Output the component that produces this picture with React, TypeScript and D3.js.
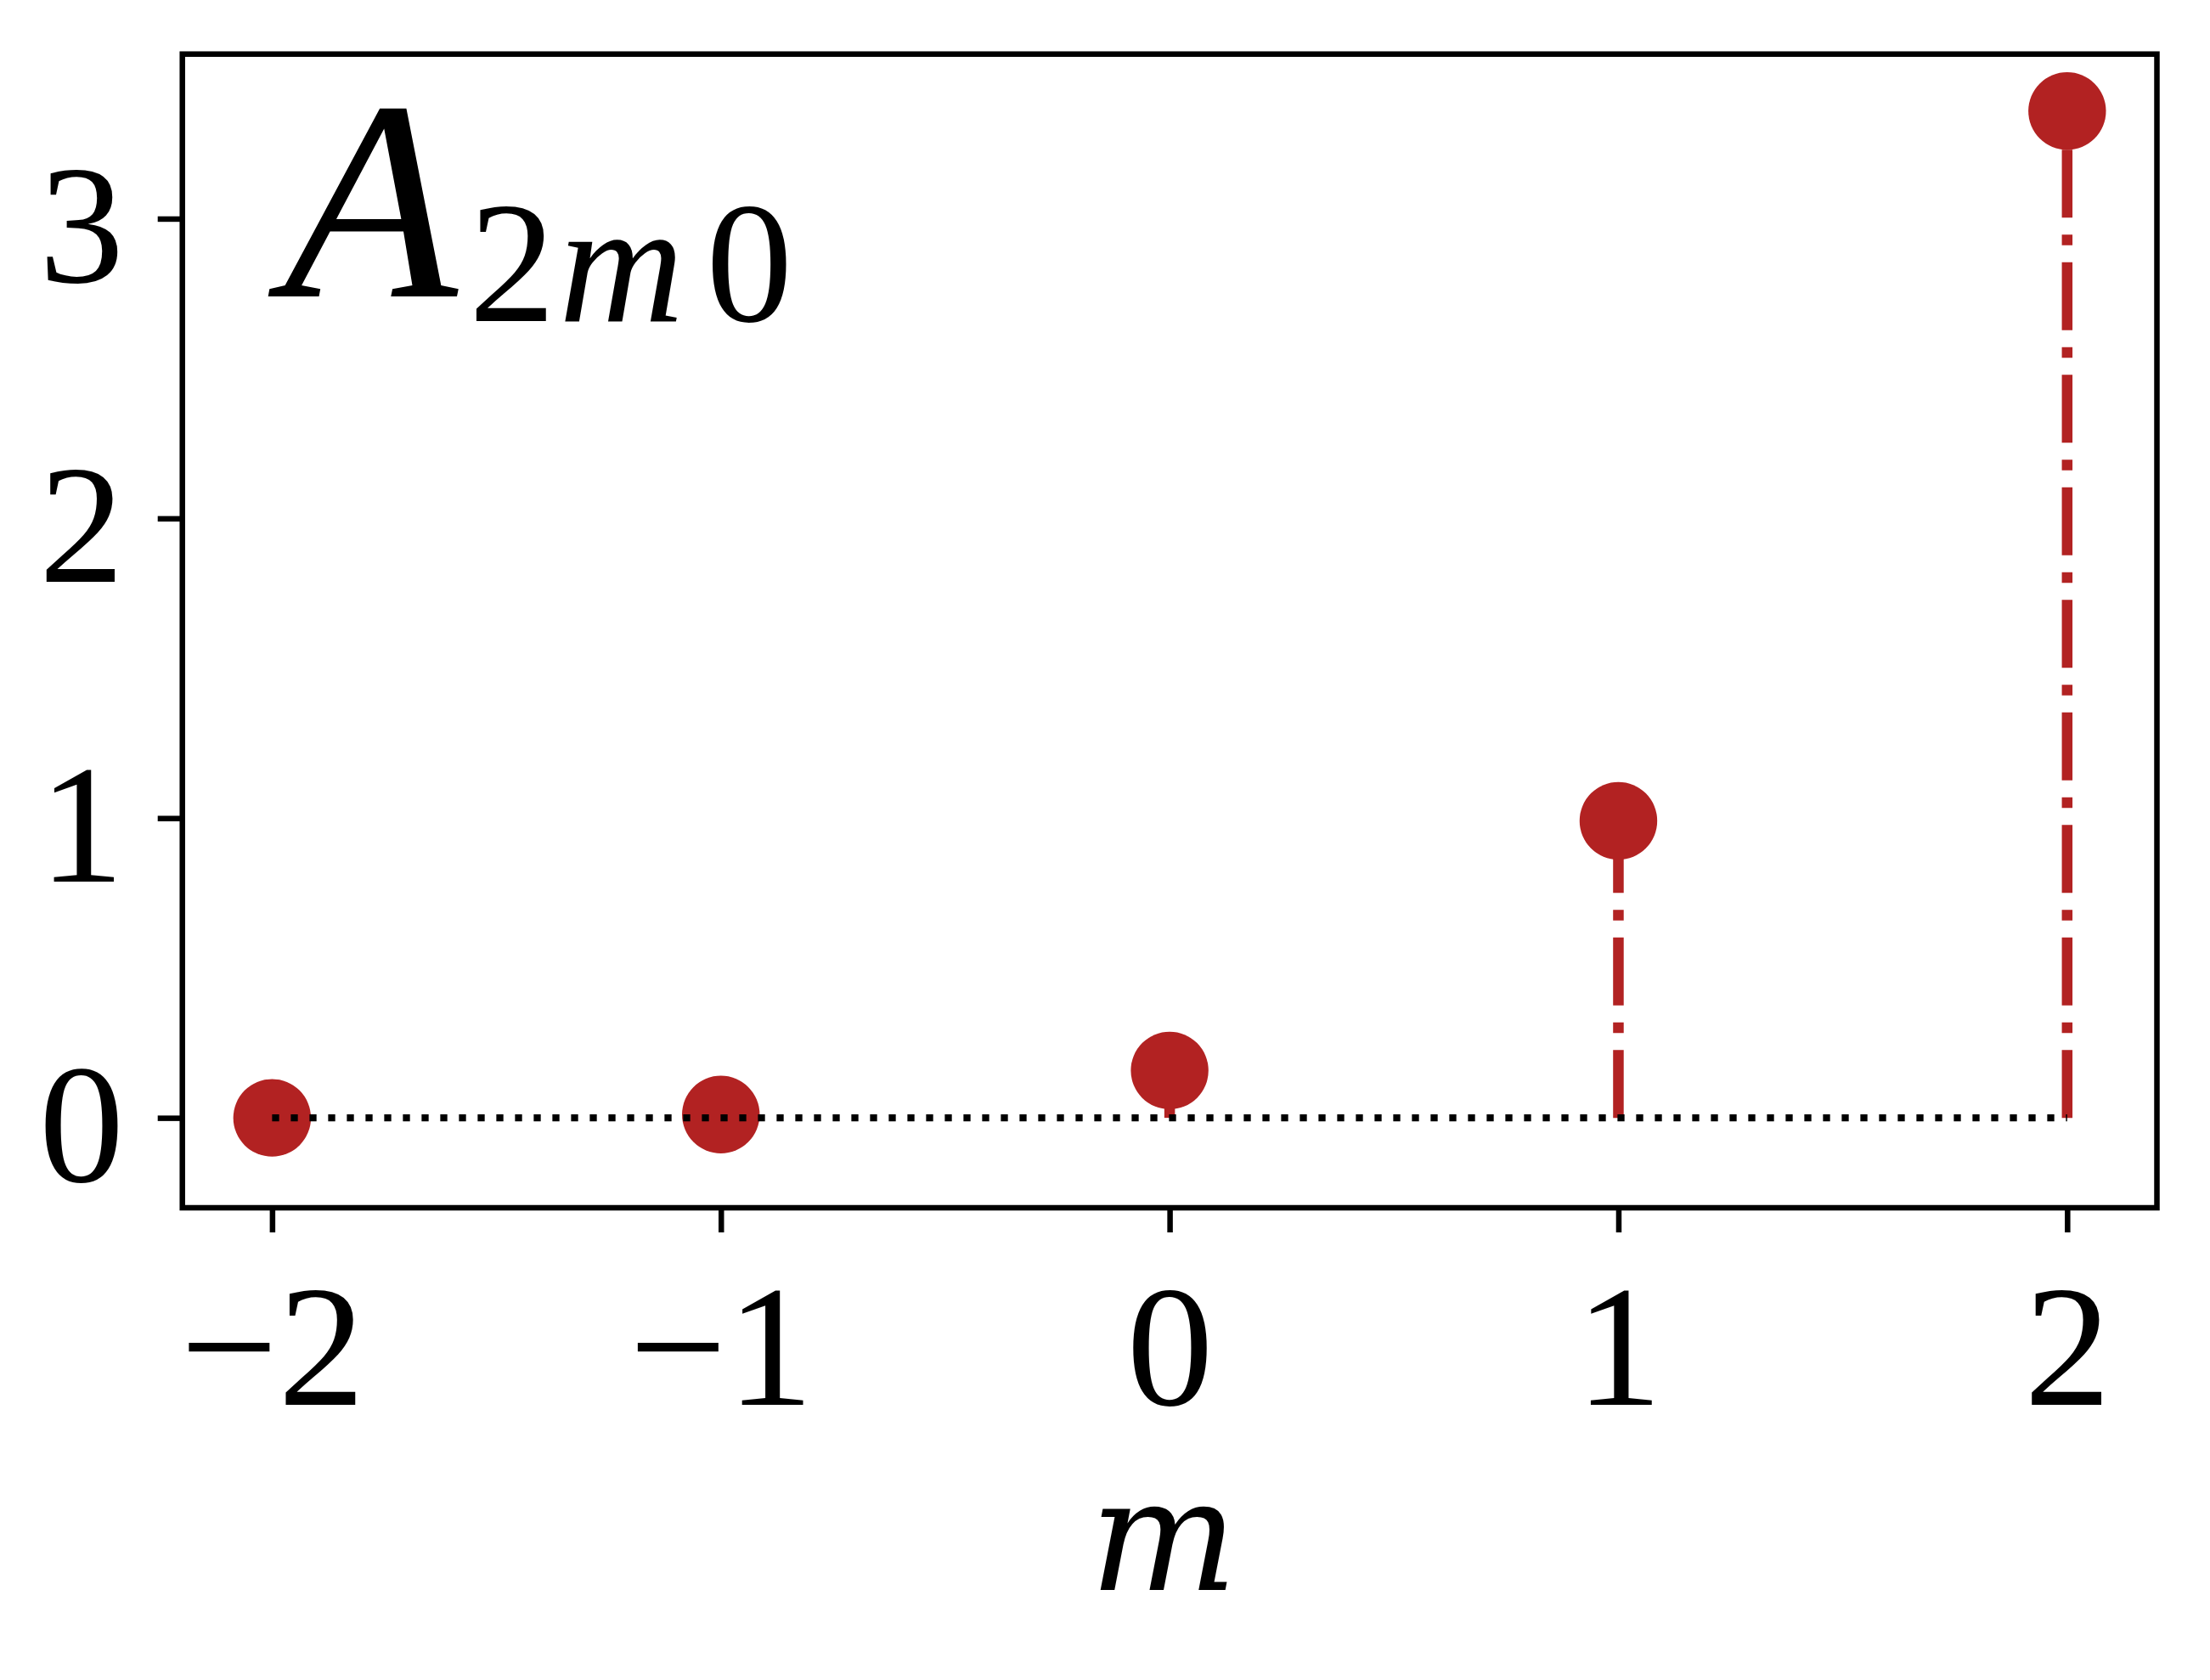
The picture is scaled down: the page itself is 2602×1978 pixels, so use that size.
import React, { useEffect, useRef } from "react";
import * as d3 from "d3";

// stem data
const mValues = [-2, -1, 0, 1, 2];
const amplitudes = [0.0, 0.011, 0.158, 0.991, 3.359];
const xTicks = [-2, -1, 0, 1, 2];
const yTicks = [0, 1, 2, 3];

const width = 2602;
const height = 1978;
const frame = { left: 214.7, right: 2539.5, top: 63.7, bottom: 1422 };
const red = "#b22222";
const serif = "'Liberation Serif', 'DejaVu Serif', serif";

export default function App() {
  const svgRef = useRef<SVGSVGElement>(null);

  useEffect(() => {
    const svg = d3.select(svgRef.current);
    svg.selectAll("*").remove();

    const x = d3.scaleLinear().domain([-2.2, 2.2]).range([frame.left, frame.right]);
    const y = d3.scaleLinear().domain([-0.3, 3.549]).range([frame.bottom, frame.top]);
    const data = mValues.map((m, i) => ({ m, a: amplitudes[i] }));

    // stems, dash-dot
    svg
      .append("g")
      .selectAll("line")
      .data(data)
      .join("line")
      .attr("x1", (d) => x(d.m))
      .attr("x2", (d) => x(d.m))
      .attr("y1", y(0))
      .attr("y2", (d) => y(d.a))
      .attr("stroke", red)
      .attr("stroke-width", 12.5)
      .attr("stroke-dasharray", "80 20 12.5 20");

    // markers
    svg
      .append("g")
      .selectAll("circle")
      .data(data)
      .join("circle")
      .attr("cx", (d) => x(d.m))
      .attr("cy", (d) => y(d.a))
      .attr("r", 45.7)
      .attr("fill", red);

    // dotted baseline
    svg
      .append("line")
      .attr("x1", x(d3.min(mValues)!))
      .attr("x2", x(d3.max(mValues)!))
      .attr("y1", y(0))
      .attr("y2", y(0))
      .attr("stroke", "black")
      .attr("stroke-width", 8.3)
      .attr("stroke-dasharray", "8.3 13.7");

    // axes
    const xAxis = svg
      .append("g")
      .attr("transform", `translate(0,${frame.bottom})`)
      .call(d3.axisBottom(x).tickValues(xTicks).tickSize(29).tickFormat(d3.format("d")));
    xAxis.select(".domain").remove();
    xAxis.selectAll(".tick line").attr("stroke-width", 6.5);
    xAxis
      .selectAll(".tick text")
      .attr("y", 1654 - frame.bottom)
      .attr("dy", null)
      .attr("font-size", 204)
      .attr("font-family", serif);

    const yAxis = svg
      .append("g")
      .attr("transform", `translate(${frame.left},0)`)
      .call(d3.axisLeft(y).tickValues(yTicks).tickSize(29).tickFormat(d3.format("d")));
    yAxis.select(".domain").remove();
    yAxis.selectAll(".tick line").attr("stroke-width", 6.5);
    yAxis
      .selectAll(".tick text")
      .attr("x", -(frame.left - 146))
      .attr("y", 74)
      .attr("dy", null)
      .attr("font-size", 200)
      .attr("font-family", serif);

    // frame
    svg
      .append("rect")
      .attr("x", frame.left)
      .attr("y", frame.top)
      .attr("width", frame.right - frame.left)
      .attr("height", frame.bottom - frame.top)
      .attr("fill", "none")
      .attr("stroke", "black")
      .attr("stroke-width", 6.5);

    // x label
    svg
      .append("text")
      .attr("x", 1370)
      .attr("y", 1872)
      .attr("text-anchor", "middle")
      .attr("font-family", "'DejaVu Serif', serif")
      .attr("font-style", "italic")
      .attr("font-size", 184)
      .text("m");

    // annotation A_{2m0}
    const note = svg.append("text").attr("font-family", serif).attr("fill", "black");
    note
      .append("tspan")
      .attr("x", 334)
      .attr("y", 349)
      .attr("font-size", 335)
      .attr("font-style", "italic")
      .text("A");
    note.append("tspan").attr("x", 552).attr("y", 378).attr("font-size", 204).text("2");
    note.append("tspan").attr("font-size", 204).attr("font-style", "italic").attr("dx", 4).text("m");
    note.append("tspan").attr("font-size", 204).attr("dx", 26).text("0");
  }, []);

  return (
    <svg
      ref={svgRef}
      width={width}
      height={height}
      viewBox={`0 0 ${width} ${height}`}
      style={{ position: "absolute", left: 0, top: 0, background: "white" }}
    />
  );
}
